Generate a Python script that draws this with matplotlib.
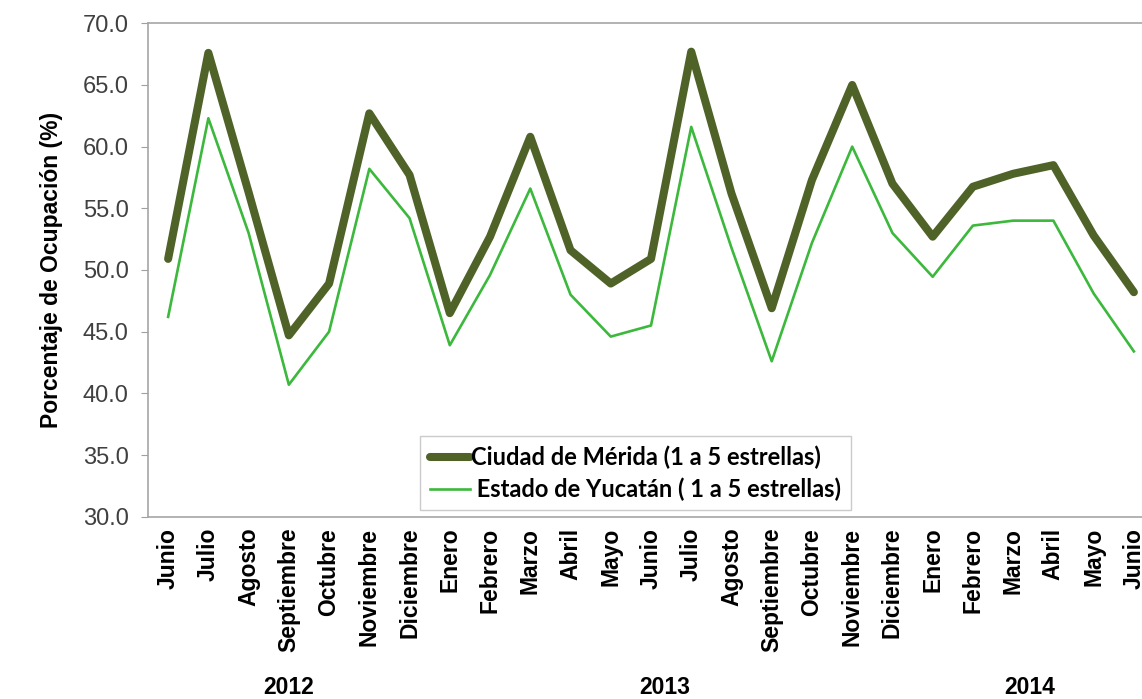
import numpy as np
import matplotlib.pyplot as plt
from matplotlib.transforms import blended_transform_factory

meses = ["Junio", "Julio", "Agosto", "Septiembre", "Octubre", "Noviembre", "Diciembre",
         "Enero", "Febrero", "Marzo", "Abril", "Mayo", "Junio", "Julio", "Agosto",
         "Septiembre", "Octubre", "Noviembre", "Diciembre", "Enero", "Febrero",
         "Marzo", "Abril", "Mayo", "Junio"]

merida = [50.9, 67.6, 56.3, 44.7, 48.9, 62.7, 57.7, 46.5, 52.7, 60.8, 51.6, 48.9, 50.9,
          67.7, 56.2, 46.9, 57.3, 65.0, 57.0, 52.7, 56.75, 57.8, 58.5, 52.8, 48.2]
yucatan = [46.2, 62.3, 53.0, 40.7, 45.0, 58.2, 54.2, 43.9, 49.6, 56.6, 48.0, 44.6, 45.5,
           61.6, 51.8, 42.6, 52.2, 60.0, 53.0, 49.45, 53.6, 54.0, 54.0, 48.1, 43.4]

anios = ["2012", "2013", "2014"]
anio_pos = [3.0, 12.35, 21.4]

plt.rcParams['font.family'] = ['Liberation Sans', 'DejaVu Sans']

fig = plt.figure(figsize=(11.42, 6.99), dpi=100)
ax = fig.add_axes([0.1296, 0.2608, 1.0105 - 0.1296, 0.9667 - 0.2608])

x = np.arange(len(meses))
ax.plot(x, merida, color='#4f6228', linewidth=5.8, solid_joinstyle='round',
        solid_capstyle='round', label="Ciudad de Mérida (1 a 5 estrellas)")
ax.plot(x, yucatan, color='#3cb83c', linewidth=1.9, solid_joinstyle='round',
        label=" Estado de Yucatán ( 1 a 5 estrellas)")

ax.set_xlim(-0.5, len(meses) - 0.5)
ax.set_ylim(30, 70)
ax.set_yticks(np.arange(30, 70.1, 5))
ax.set_yticklabels(["{:.1f}".format(v) for v in np.arange(30, 70.1, 5)])
ax.set_xticks(x)
ax.set_xticklabels(meses, rotation=90, fontweight='bold', fontsize=16.5)

ax.tick_params(axis='y', length=5, color='#a0a0a0', pad=9, labelsize=17, labelcolor='#404040')
ax.tick_params(axis='x', length=0, pad=8)
for s in ['left', 'bottom', 'top']:
    ax.spines[s].set_color('#a6a6a6')
    ax.spines[s].set_linewidth(1.2)
ax.spines['right'].set_visible(False)

ax.set_ylabel("Porcentaje de Ocupación (%)", fontsize=16.5, fontweight='bold', labelpad=14)

leg = ax.legend(loc='upper left', bbox_to_anchor=(0.259, 0.187),
                prop={'family': ['Lato', 'DejaVu Sans'], 'weight': 'bold', 'size': 17},
                frameon=True, fancybox=False, handlelength=1.7, handletextpad=0.05,
                borderpad=0.4, labelspacing=0.35)
leg.get_frame().set_edgecolor('#bfbfbf')
leg.get_frame().set_linewidth(1.0)

trans = blended_transform_factory(ax.transData, fig.transFigure)
for pos, a in zip(anio_pos, anios):
    ax.text(pos, 0.016, a, transform=trans, ha='center', va='center',
            fontsize=16.5, fontweight='bold')

plt.savefig("out.png", dpi=100)
